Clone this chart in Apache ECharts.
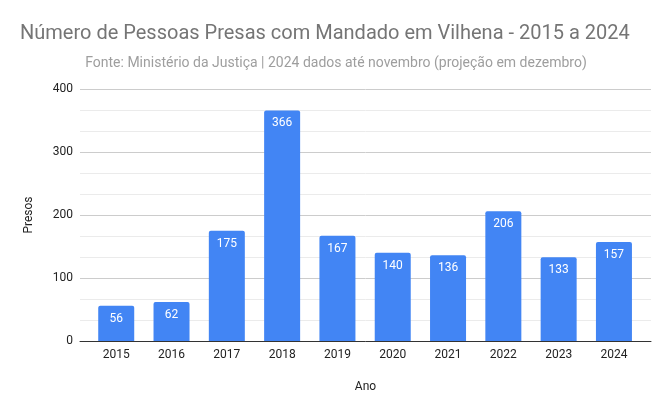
<!DOCTYPE html>
<html>
<head>
<meta charset="utf-8">
<script src="https://cdn.jsdelivr.net/npm/echarts@6/dist/echarts.min.js"></script>
<style>
  html, body { margin: 0; padding: 0; background: #fff; }
  #chart { width: 672px; height: 415px; }
</style>
</head>
<body>
<div id="chart"></div>
<script>
var anos = [2015, 2016, 2017, 2018, 2019, 2020, 2021, 2022, 2023, 2024];
var presos = [56, 62, 175, 366, 167, 140, 136, 206, 133, 157];
var yTicks = [0, 100, 200, 300, 400];

var titulo = 'Número de Pessoas Presas com Mandado em Vilhena - 2015 a 2024';
var subtitulo = 'Fonte: Ministério da Justiça | 2024 dados até novembro (projeção em dezembro)';

var myChart = echarts.init(document.getElementById('chart'));

var dados = anos.map(function (a, i) { return [a, presos[i]]; });

var option = {
    animation: false,
    textStyle: { fontFamily: 'Roboto' },
    title: [{
        text: titulo,
        left: 15,
        top: 19,
        textStyle: { fontSize: 20, fontWeight: 'normal', color: '#757575', fontFamily: 'Roboto' }
    }, {
        text: subtitulo,
        left: 'center',
        top: 51,
        textStyle: { fontSize: 14, fontWeight: 'normal', color: '#9e9e9e', fontFamily: 'Roboto' }
    }],
    grid: { left: 80, right: 21, top: 89, bottom: 74 },
    xAxis: {
        type: 'value',
        min: 2014.345,
        max: 2024.67,
        name: 'Ano',
        nameLocation: 'middle',
        nameGap: 40,
        nameTextStyle: { fontSize: 12, color: '#222' },
        axisLine: { show: true, lineStyle: { color: '#333', width: 1 } },
        axisTick: { show: false },
        splitLine: { show: false },
        axisLabel: {
            customValues: anos,
            color: '#222',
            fontSize: 12,
            margin: 8,
            formatter: function (v) { return String(v); }
        }
    },
    yAxis: {
        type: 'value',
        min: yTicks[0],
        max: yTicks[yTicks.length - 1],
        interval: 100,
        name: 'Presos',
        nameLocation: 'middle',
        nameGap: 45,
        nameTextStyle: { fontSize: 12, color: '#222' },
        axisLine: { show: false },
        axisTick: { show: false },
        axisLabel: { color: '#222', fontSize: 12, margin: 7 },
        splitLine: { lineStyle: { color: '#cccccc', width: 1 } },
        minorTick: { show: false, splitNumber: 3 },
        minorSplitLine: { show: true, lineStyle: { color: '#ebebeb', width: 1 } }
    },
    series: [{
        type: 'bar',
        data: dados,
        barWidth: 36,
        itemStyle: { color: '#4285f4', borderRadius: [2, 2, 0, 0] },
        label: {
            show: true,
            position: 'insideTop',
            distance: 7,
            color: '#ffffff',
            fontSize: 12
        }
    }]
};

myChart.setOption(option);
</script>
</body>
</html>
